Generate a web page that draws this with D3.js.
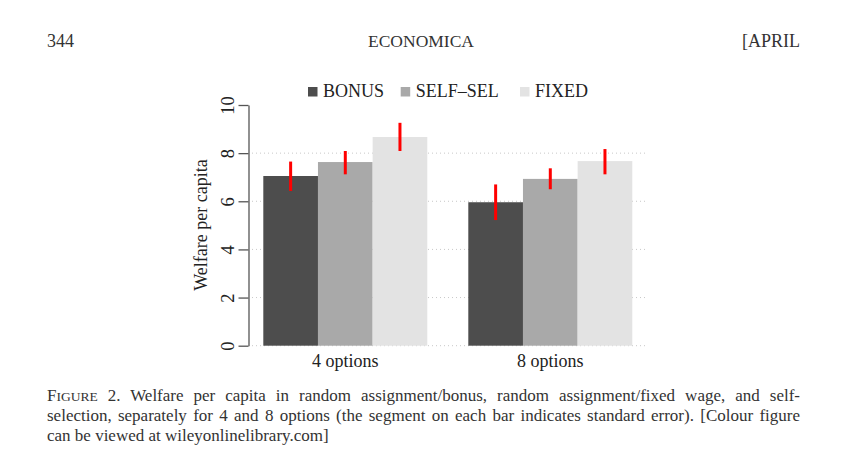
<!DOCTYPE html>
<html><head><meta charset="utf-8">
<script src="https://cdn.jsdelivr.net/npm/d3@7"></script>
<style>body{margin:0;background:#fff}svg{display:block}</style>
</head><body>
<svg id="c" width="856" height="470"></svg>
<script>
const groups = ["4 options", "8 options"];
const series = ["BONUS", "SELF\u2013SEL", "FIXED"];
const colors = ["#4d4d4d", "#a9a9a9", "#e3e3e3"];
const means = [[7.05, 7.63, 8.67], [5.96, 6.93, 7.67]];
const errLow = [[6.43, 7.12, 8.09], [5.22, 6.50, 7.12]];
const errHigh = [[7.65, 8.09, 9.26], [6.70, 7.37, 8.17]];
const yTicks = [0, 2, 4, 6, 8, 10];
const gridTicks = [0, 2, 4, 6, 8];
const captionLines = [
  ["FIGURE 2.", " Welfare per capita in random assignment/bonus, random assignment/fixed wage, and self-"],
  ["", "selection, separately for 4 and 8 options (the segment on each bar indicates standard error). [Colour figure"],
  ["", "can be viewed at wileyonlinelibrary.com]"]
];

const svg = d3.select("#c");
const serif = "'Liberation Serif','Times New Roman',serif";

// header
svg.append("text").attr("x", 47).attr("y", 47).attr("font-family", serif).attr("font-size", 18).attr("fill", "#333").text("344");
svg.append("text").attr("x", 421).attr("y", 47).attr("text-anchor", "middle").attr("font-family", serif).attr("font-size", 17.5).attr("fill", "#333").text("ECONOMICA");
svg.append("text").attr("x", 800).attr("y", 47).attr("text-anchor", "end").attr("font-family", serif).attr("font-size", 18).attr("fill", "#333").text("[APRIL");

const y = d3.scaleLinear().domain([0, 10]).range([345.7, 105]);
const x0 = d3.scaleBand().domain(groups).range([263.3, 632.3]).paddingInner(0.2).paddingOuter(0);
const x1 = d3.scaleBand().domain(series).range([0, x0.bandwidth()]).padding(0);

// grid
svg.append("g").selectAll("line").data(gridTicks).join("line")
  .attr("x1", 252).attr("x2", 645).attr("y1", d => y(d)).attr("y2", d => y(d))
  .attr("stroke", "#c8c8c8").attr("stroke-width", 1).attr("stroke-dasharray", "1,3");

// bars
const gg = svg.append("g").selectAll("g").data(groups).join("g")
  .attr("transform", g => `translate(${x0(g)},0)`);
gg.selectAll("rect").data((g, gi) => series.map((s, si) => ({s, si, v: means[gi][si]}))).join("rect")
  .attr("x", d => x1(d.s)).attr("width", x1.bandwidth())
  .attr("y", d => y(d.v)).attr("height", d => y(0) - y(d.v))
  .attr("fill", d => colors[d.si]);
gg.selectAll("line.err").data((g, gi) => series.map((s, si) => ({s, lo: errLow[gi][si], hi: errHigh[gi][si]}))).join("line")
  .attr("class", "err")
  .attr("x1", d => x1(d.s) + x1.bandwidth() / 2).attr("x2", d => x1(d.s) + x1.bandwidth() / 2)
  .attr("y1", d => y(d.lo)).attr("y2", d => y(d.hi))
  .attr("stroke", "#ff0000").attr("stroke-width", 3);

// y axis
const ax = svg.append("g").attr("transform", "translate(248.5,0)")
  .call(d3.axisLeft(y).tickValues(yTicks).tickSize(10).tickSizeOuter(0).tickFormat(d3.format("d")));
ax.select(".domain").attr("stroke", "#555").attr("stroke-width", 1.3);
ax.selectAll(".tick line").attr("stroke", "#555").attr("stroke-width", 1.3);
ax.selectAll(".tick text").attr("font-family", serif).attr("font-size", 18.5).attr("fill", "#222")
  .attr("x", null).attr("dy", null).attr("text-anchor", "middle")
  .attr("transform", "translate(-14.5,0) rotate(-90)");
svg.append("text").attr("transform", "translate(207,225) rotate(-90)").attr("text-anchor", "middle")
  .attr("font-family", serif).attr("font-size", 18).attr("fill", "#222").text("Welfare per capita");

// x labels
svg.append("g").selectAll("text").data(groups).join("text")
  .attr("x", g => x0(g) + x0.bandwidth() / 2).attr("y", 367).attr("text-anchor", "middle")
  .attr("font-family", serif).attr("font-size", 18).attr("fill", "#222").text(g => g);

// legend
const legX = [308, 400.7, 520];
const lg = svg.append("g").selectAll("g").data(series).join("g")
  .attr("transform", (s, i) => `translate(${legX[i]},0)`);
lg.append("rect").attr("x", 0).attr("y", 87).attr("width", 9.5).attr("height", 9.5).attr("fill", (s, i) => colors[i]);
lg.append("text").attr("x", 15).attr("y", 97).attr("font-family", serif).attr("font-size", 18).attr("fill", "#222").text(s => s);

// caption
const capY = [401, 421, 441];
captionLines.forEach((ln, i) => {
  const t = svg.append("text").attr("x", 47).attr("y", capY[i]).attr("font-family", serif).attr("font-size", 17).attr("fill", "#333");
  if (ln[0]) {
    t.append("tspan").text("F");
    t.append("tspan").attr("font-size", 13.5).text("IGURE");
    t.append("tspan").text(" 2.");
  }
  t.append("tspan").text(ln[1]);
  if (i < 2) {
    const w = t.node().getComputedTextLength();
    const txt = (ln[0] ? ln[0] : "") + ln[1];
    const spaces = (txt.match(/ /g) || []).length;
    const extra = (753 - w) / spaces;
    t.attr("word-spacing", extra);
  }
});
</script>
</body></html>
